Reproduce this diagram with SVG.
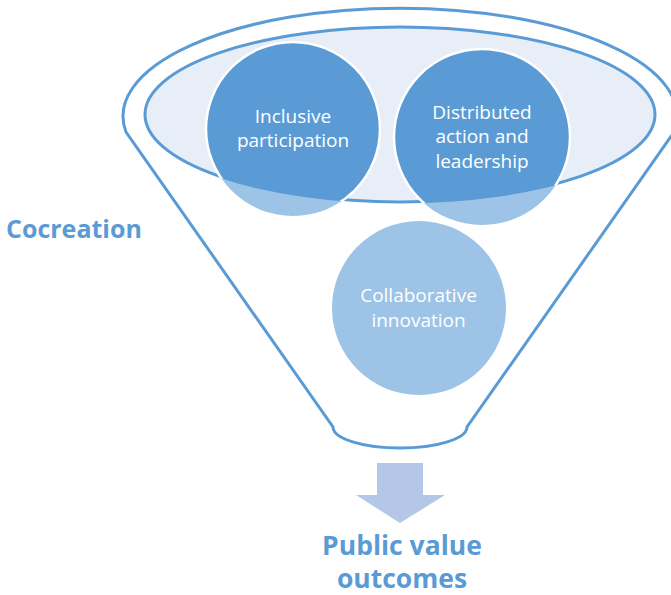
<svg xmlns="http://www.w3.org/2000/svg" width="671" height="595" viewBox="0 0 671 595">
  <style>
    .outline { fill: none; stroke: #5B9BD5; stroke-width: 3; }
    .lens { fill: #E7EEF8; stroke: #5B9BD5; stroke-width: 3; }
    .light { fill: #9DC3E6; }
    .dark { fill: #5B9BD5; stroke: #FFFFFF; stroke-width: 2.5; }
    .ntext { font-family: "Open Sans", "Liberation Sans", sans-serif; font-size: 19px; fill: #FFFFFF; text-anchor: middle; }
    .label { font-family: "Open Sans", "Liberation Sans", sans-serif; font-weight: bold; fill: #5B9BD5; }
    .arrow { fill: #B4C7E7; }
  </style>
  <defs>
    <clipPath id="lensClip">
      <ellipse cx="400" cy="114.5" rx="256.5" ry="89"/>
    </clipPath>
  </defs>
  <rect x="0" y="0" width="671" height="595" fill="#FFFFFF"/>

  <g id="funnel">
    <path class="outline" d="M 126,132 A 277 108 0 1 1 674,132 L 467,427 A 67 21 0 0 1 333,427 Z"/>
  </g>

  <g id="lens">
    <ellipse class="lens" cx="400" cy="114.5" rx="255" ry="87.5"/>
  </g>

  <g id="node-inclusive">
    <circle class="light" cx="293" cy="129" r="87"/>
    <circle class="dark" cx="293" cy="129" r="87" clip-path="url(#lensClip)"/>
    <text class="ntext" x="293" y="123">Inclusive</text>
    <text class="ntext" x="293" y="147">participation</text>
  </g>

  <g id="node-distributed">
    <circle class="light" cx="482" cy="137" r="88"/>
    <circle class="dark" cx="482" cy="137" r="88" clip-path="url(#lensClip)"/>
    <text class="ntext" x="482" y="119">Distributed</text>
    <text class="ntext" x="482" y="143">action and</text>
    <text class="ntext" x="482" y="168">leadership</text>
  </g>

  <g id="node-collaborative">
    <circle class="light" cx="419" cy="308" r="87"/>
    <text class="ntext" x="418.5" y="302">Collaborative</text>
    <text class="ntext" x="418.5" y="327">innovation</text>
  </g>

  <g id="label-cocreation">
    <text class="label" x="6" y="238" font-size="25">Cocreation</text>
  </g>

  <g id="connectors">
    <polygon class="arrow" points="377,463 423,463 423,495 445,495 400,523 356,495 377,495"/>
  </g>

  <g id="label-outcomes">
    <text class="label" x="402" y="555" font-size="26.5" text-anchor="middle">Public value</text>
    <text class="label" x="402" y="588" font-size="26.5" text-anchor="middle">outcomes</text>
  </g>
</svg>
